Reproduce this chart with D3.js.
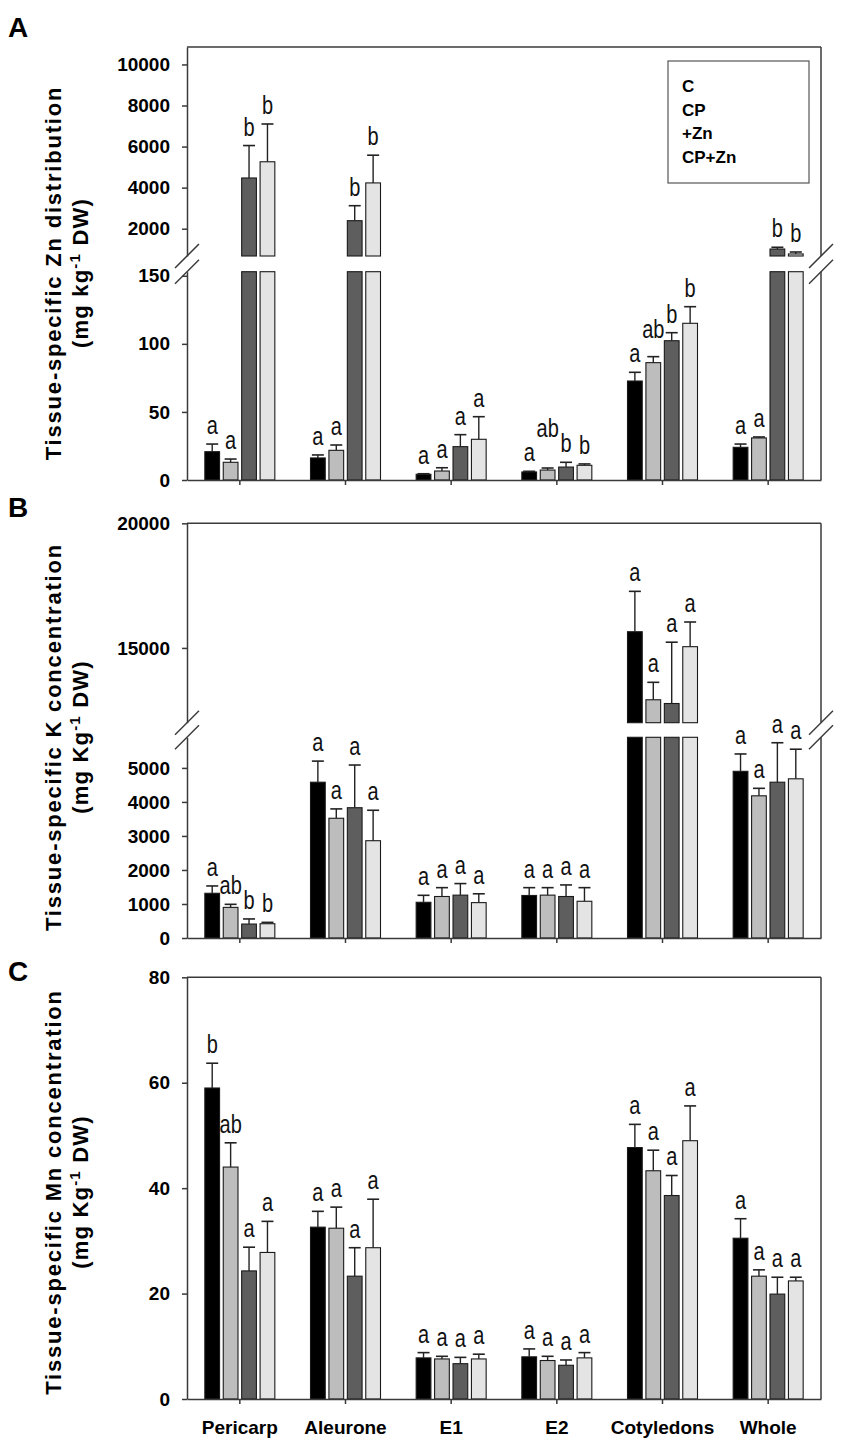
<!DOCTYPE html>
<html>
<head>
<meta charset="utf-8">
<script src="https://cdn.jsdelivr.net/npm/d3@7/dist/d3.min.js"></script>
<style>
  body { margin: 0; background: #fff; }
  svg { display: block; }
  text { font-family: "Liberation Sans", Arial, Helvetica, sans-serif; }
</style>
</head>
<body>
<div id="chart"></div>
<script>
// categories and treatments
var tissues = ["Pericarp", "Aleurone", "E1", "E2", "Cotyledons", "Whole"];
var treatments = ["C", "CP", "+Zn", "CP+Zn"];

// A - Zn distribution, mean and SE (rows = tissues, cols = treatments)
var znMean = [
  [20.8, 13.0, 4470, 5260],
  [16.2, 21.8, 2390, 4230],
  [4.2, 6.6, 24.5, 29.9],
  [5.9, 7.3, 9.5, 10.8],
  [72.7, 86.2, 102.3, 115.1],
  [24.0, 30.9, 1010, 770]
];
var znSE = [
  [5.6, 2.4, 1580, 1840],
  [2.2, 3.9, 730, 1350],
  [0.4, 2.4, 8.8, 16.6],
  [0.5, 1.5, 3.5, 1.0],
  [6.4, 4.4, 5.9, 12.2],
  [2.4, 0.7, 85, 95]
];
var znLetters = [
  ["a", "a", "b", "b"],
  ["a", "a", "b", "b"],
  ["a", "a", "a", "a"],
  ["a", "ab", "b", "b"],
  ["a", "ab", "b", "b"],
  ["a", "a", "b", "b"]
];
var znTicksLow = [0, 50, 100, 150];
var znTicksHigh = [2000, 4000, 6000, 8000, 10000];

// B - K concentration
var kMean = [
  [1315, 900, 410, 420],
  [4580, 3520, 3830, 2860],
  [1050, 1220, 1260, 1040],
  [1250, 1260, 1220, 1080],
  [15650, 12920, 12770, 15050],
  [4900, 4180, 4580, 4680]
];
var kSE = [
  [215, 90, 150, 40],
  [620, 275, 1255, 895],
  [205, 260, 340, 260],
  [230, 220, 340, 400],
  [1620, 700, 2460, 990],
  [510, 220, 1160, 870]
];
var kLetters = [
  ["a", "ab", "b", "b"],
  ["a", "a", "a", "a"],
  ["a", "a", "a", "a"],
  ["a", "a", "a", "a"],
  ["a", "a", "a", "a"],
  ["a", "a", "a", "a"]
];
var kTicksLow = [0, 1000, 2000, 3000, 4000, 5000];
var kTicksHigh = [15000, 20000];

// C - Mn concentration
var mnMean = [
  [59.0, 44.0, 24.3, 27.8],
  [32.6, 32.4, 23.3, 28.7],
  [7.8, 7.6, 6.7, 7.6],
  [8.0, 7.3, 6.4, 7.8],
  [47.7, 43.3, 38.6, 49.0],
  [30.5, 23.3, 19.9, 22.4]
];
var mnSE = [
  [4.7, 4.6, 4.5, 5.9],
  [3.0, 4.0, 5.4, 9.2],
  [1.0, 0.5, 1.2, 0.9],
  [1.5, 0.8, 1.0, 1.0],
  [4.4, 3.9, 3.8, 6.6],
  [3.7, 1.2, 3.2, 0.7]
];
var mnLetters = [
  ["b", "ab", "a", "a"],
  ["a", "a", "a", "a"],
  ["a", "a", "a", "a"],
  ["a", "a", "a", "a"],
  ["a", "a", "a", "a"],
  ["a", "a", "a", "a"]
];
var mnTicks = [0, 20, 40, 60, 80];

var fills = {"C": "#000000", "CP": "#bdbdbd", "+Zn": "#5e5e5e", "CP+Zn": "#e4e4e4"};

var W = 850, H = 1451;
var left = 187, right = 821;

var svg = d3.select("#chart").append("svg")
  .attr("width", W).attr("height", H);

var x = d3.scaleBand().domain(tissues).range([left, right]);
var xi = d3.scaleBand().domain(treatments).range([-35, 35]).paddingInner(0.2);

function drawPanel(p) {
  var g = svg.append("g");
  var segs = p.segs.map(function(s) {
    return {y: d3.scaleLinear().domain(s.domain).range(s.range), ticks: s.ticks};
  });
  var base = segs[0].y.range()[0];
  var topY = segs[segs.length - 1].y.range()[1];

  // flatten the bars
  var bars = [];
  p.mean.forEach(function(row, i) {
    row.forEach(function(v, j) {
      bars.push({t: tissues[i], k: treatments[j], v: v, e: v + p.se[i][j], lab: p.letters[i][j]});
    });
  });

  // bar pieces, one per axis segment they reach
  segs.forEach(function(s) {
    var d0 = s.y.domain()[0], d1 = s.y.domain()[1];
    g.append("g").selectAll("rect")
      .data(bars.filter(function(d) { return d.v > d0; }))
      .enter().append("rect")
        .attr("x", function(d) { return x(d.t) + x.bandwidth() / 2 + xi(d.k); })
        .attr("y", function(d) { return s.y(Math.min(d.v, d1)); })
        .attr("width", xi.bandwidth())
        .attr("height", function(d) { return s.y(d0) - s.y(Math.min(d.v, d1)); })
        .attr("fill", function(d) { return fills[d.k]; })
        .attr("stroke", "#1a1a1a")
        .attr("stroke-width", 1.1);
  });

  // error bars and letters
  var labels = [];
  bars.forEach(function(d) {
    var s = segs.filter(function(s) { return d.v > s.y.domain()[0] && d.v <= s.y.domain()[1]; })[0];
    var mid = x(d.t) + x.bandwidth() / 2 + xi(d.k) + xi.bandwidth() / 2;
    var yv = s.y(d.v), ye = s.y(Math.min(d.e, s.y.domain()[1]));
    g.append("line").attr("x1", mid).attr("x2", mid).attr("y1", yv).attr("y2", ye)
      .attr("stroke", "#222").attr("stroke-width", 1.4);
    g.append("line").attr("x1", mid - 6).attr("x2", mid + 6).attr("y1", ye).attr("y2", ye)
      .attr("stroke", "#222").attr("stroke-width", 1.6);
    labels.push({t: d.t, lab: d.lab, x: mid, y: ye - 10});
  });
  // lift wide labels that would collide with their left neighbour
  for (var i = 1; i < labels.length; i++) {
    var a = labels[i - 1], b = labels[i];
    if (a.t === b.t && b.lab.length > 1 && Math.abs(a.y - b.y) < 18) b.y = a.y - 24;
  }
  // letters are a tall, narrow face in the original
  g.append("g").selectAll("text").data(labels).enter().append("text")
    .attr("transform", function(d) { return "translate(" + d.x + "," + d.y + ") scale(0.8,1)"; })
    .attr("text-anchor", "middle")
    .attr("font-size", 25)
    .attr("fill", "#111")
    .text(function(d) { return d.lab; });

  // y axis pieces
  segs.forEach(function(s) {
    var ax = g.append("g").attr("transform", "translate(" + left + ",0)")
      .call(d3.axisLeft(s.y).tickValues(s.ticks).tickSize(5).tickSizeOuter(0)
        .tickPadding(12).tickFormat(d3.format("d")));
    ax.attr("font-size", 19).attr("font-weight", "bold")
      .attr("font-family", "'Liberation Sans', Arial, sans-serif").attr("color", "#3a3a3a");
    ax.selectAll("path,line").attr("stroke-width", 1.5);
    ax.selectAll("text").attr("fill", "#000");
    // right frame
    g.append("line").attr("x1", right).attr("x2", right)
      .attr("y1", s.y.range()[0]).attr("y2", s.y.range()[1])
      .attr("stroke", "#3a3a3a").attr("stroke-width", 1.5);
  });
  // top frame
  g.append("line").attr("x1", left).attr("x2", right).attr("y1", topY).attr("y2", topY)
    .attr("stroke", "#3a3a3a").attr("stroke-width", 1.5);

  // break marks
  if (segs.length > 1) {
    var ys = [segs[0].y.range()[1], segs[1].y.range()[0]];
    [left, right].forEach(function(bx) {
      ys.forEach(function(by) {
        g.append("line").attr("x1", bx - 12).attr("y1", by + 12).attr("x2", bx + 12).attr("y2", by - 12)
          .attr("stroke", "#3a3a3a").attr("stroke-width", 1.5);
      });
    });
  }

  // x axis
  var xa = g.append("g").attr("transform", "translate(0," + base + ")")
    .call(d3.axisBottom(x).tickSize(5).tickSizeOuter(0).tickPadding(16.5)
      .tickFormat(p.showNames ? null : function() { return ""; }));
  xa.attr("font-size", 19).attr("font-weight", "bold")
    .attr("font-family", "'Liberation Sans', Arial, sans-serif").attr("color", "#3a3a3a");
  xa.selectAll("path,line").attr("stroke-width", 1.5);
  xa.selectAll("text").attr("fill", "#000");

  // y title, two lines
  var cy = p.titleY;
  g.append("text").attr("transform", "translate(61," + cy + ") rotate(-90)")
    .attr("text-anchor", "middle").attr("font-size", 22).attr("font-weight", "bold")
    .attr("letter-spacing", 1.8).attr("fill", "#000")
    .text(p.title);
  var t2 = g.append("text").attr("transform", "translate(88," + cy + ") rotate(-90)")
    .attr("text-anchor", "middle").attr("font-size", 22).attr("font-weight", "bold")
    .attr("letter-spacing", 1.2).attr("fill", "#000");
  t2.append("tspan").text("(mg " + p.unitK + "g");
  t2.append("tspan").attr("dy", -8).attr("font-size", 15).text("-1");
  t2.append("tspan").attr("dy", 8).text(" DW)");

  // panel letter
  g.append("text").attr("x", 8).attr("y", p.letterY).attr("font-size", 28)
    .attr("font-weight", "bold").attr("fill", "#000").text(p.letter);

  return g;
}

var gA = drawPanel({
  mean: znMean, se: znSE, letters: znLetters,
  segs: [
    {domain: [0, 153], range: [480, 271.7], ticks: znTicksLow},
    {domain: [670, 10850], range: [256, 47], ticks: znTicksHigh}
  ],
  title: "Tissue-specific Zn distribution", unitK: "k", titleY: 273,
  letter: "A", letterY: 37, showNames: false
});

drawPanel({
  mean: kMean, se: kSE, letters: kLetters,
  segs: [
    {domain: [0, 5900], range: [938, 737.3], ticks: kTicksLow},
    {domain: [12000, 20000], range: [722.7, 523.3], ticks: kTicksHigh}
  ],
  title: "Tissue-specific K concentration", unitK: "K", titleY: 737,
  letter: "B", letterY: 517, showNames: false
});

drawPanel({
  mean: mnMean, se: mnSE, letters: mnLetters,
  segs: [
    {domain: [0, 80], range: [1399, 977.3], ticks: mnTicks}
  ],
  title: "Tissue-specific Mn concentration", unitK: "K", titleY: 1192,
  letter: "C", letterY: 981, showNames: true
});

// legend of panel A (text only, as in the original)
var leg = gA.append("g");
leg.append("rect").attr("x", 668).attr("y", 61).attr("width", 141).attr("height", 122)
  .attr("fill", "#fff").attr("stroke", "#555").attr("stroke-width", 1.2);
leg.selectAll("text.lg").data(treatments).enter().append("text")
  .attr("class", "lg")
  .attr("x", 682)
  .attr("y", function(d, i) { return 92 + i * 23.7; })
  .attr("font-size", 17).attr("font-weight", "bold").attr("fill", "#000")
  .text(function(d) { return d; });
</script>
</body>
</html>
